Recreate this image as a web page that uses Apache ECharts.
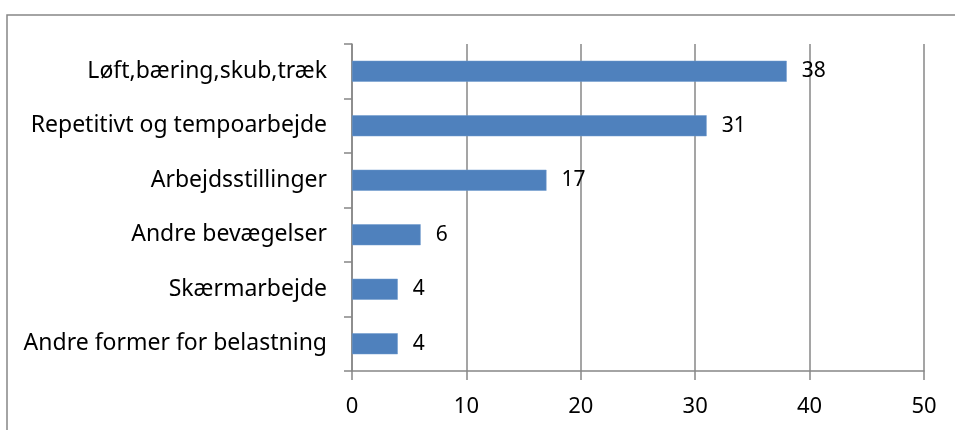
<!DOCTYPE html>
<html>
<head>
<meta charset="utf-8">
<style>
  html, body { margin: 0; padding: 0; background: #ffffff; }
  #chart { width: 955px; height: 430px; }
</style>
<script src="https://cdn.jsdelivr.net/npm/echarts@6/dist/echarts.min.js"></script>
</head>
<body>
<div id="chart"></div>
<script>
// Categories, top to bottom
const categories = [
  'Løft,bæring,skub,træk',
  'Repetitivt og tempoarbejde',
  'Arbejdsstillinger',
  'Andre bevægelser',
  'Skærmarbejde',
  'Andre former for belastning'
];
// Number of answers per category
const values = [38, 31, 17, 6, 4, 4];
// Value axis range and step
const axisMin = 0;
const axisMax = 50;
const axisStep = 10;

const gray = '#878787';
const fontFamily = '"Noto Sans", "Open Sans", sans-serif';

const chart = echarts.init(document.getElementById('chart'), null, { renderer: 'canvas' });
chart.setOption({
  animation: false,
  backgroundColor: '#ffffff',
  graphic: [{
    type: 'rect',
    shape: { x: 7, y: 15, width: 1000, height: 500 },
    style: { fill: 'none', stroke: gray, lineWidth: 1.5 },
    silent: true
  }],
  grid: { left: 352, right: 31, top: 44, bottom: 59, containLabel: false },
  xAxis: {
    type: 'value',
    min: axisMin,
    max: axisMax,
    interval: axisStep,
    axisLine: { show: true, lineStyle: { color: gray, width: 1.5 } },
    axisTick: { show: true, inside: false, length: 9, lineStyle: { color: gray, width: 1.5 } },
    splitLine: { show: true, lineStyle: { color: gray, width: 1.5 } },
    axisLabel: { color: '#000', fontSize: 22, fontFamily: fontFamily, margin: 25 }
  },
  yAxis: {
    type: 'category',
    inverse: true,
    data: categories,
    axisLine: { show: true, lineStyle: { color: gray, width: 1.5 } },
    axisTick: { show: true, inside: false, length: 8, lineStyle: { color: gray, width: 1.5 } },
    splitLine: { show: false },
    axisLabel: { color: '#000', fontSize: 23, fontFamily: fontFamily, margin: 25 }
  },
  series: [{
    type: 'bar',
    data: values,
    barWidth: 21,
    itemStyle: { color: '#4f81bd', borderColor: '#6d98cc', borderWidth: 0.5 },
    label: {
      show: true,
      position: 'right',
      distance: 15,
      color: '#000',
      fontSize: 21,
      fontFamily: fontFamily
    }
  }]
});
</script>
</body>
</html>
